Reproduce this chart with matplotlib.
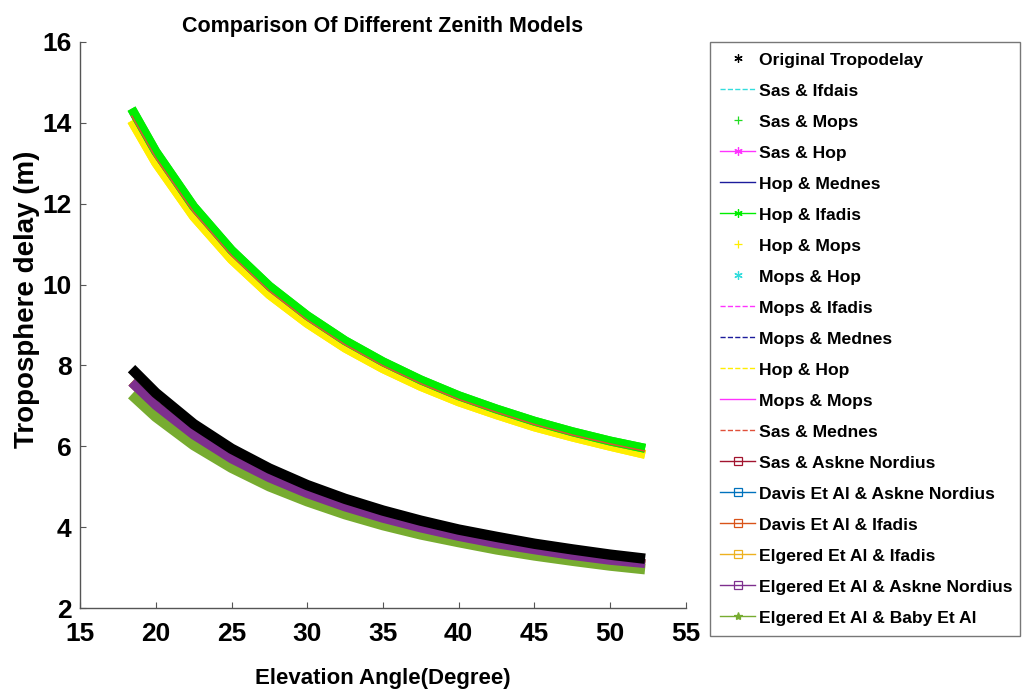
import matplotlib
matplotlib.use("Agg")
import matplotlib.pyplot as plt
from matplotlib.lines import Line2D

# ------------------------------------------------------------
# Data (elevation in degrees, delay in m)
# ------------------------------------------------------------
elev = [18.4, 20, 22.5, 25, 27.5, 30, 32.5, 35, 37.5, 40, 42.5, 45, 47.5, 50, 52.3]

upper_high = [14.35, 13.29, 11.93, 10.85, 9.96, 9.23, 8.61, 8.09, 7.64, 7.25,
              6.92, 6.62, 6.36, 6.13, 5.95]
upper_mid = [14.18, 13.13, 11.79, 10.72, 9.84, 9.12, 8.51, 7.99, 7.55, 7.16,
             6.84, 6.54, 6.28, 6.06, 5.88]
upper_low = [14.05, 13.01, 11.68, 10.62, 9.75, 9.04, 8.43, 7.92, 7.48, 7.10,
             6.78, 6.48, 6.23, 6.00, 5.80]

original = [7.92, 7.32, 6.55, 5.94, 5.45, 5.04, 4.70, 4.41, 4.16, 3.94,
            3.76, 3.59, 3.45, 3.32, 3.22]
askne = [7.58, 7.01, 6.28, 5.69, 5.22, 4.83, 4.50, 4.22, 3.98, 3.77,
         3.59, 3.44, 3.30, 3.18, 3.10]
baby = [7.28, 6.73, 6.03, 5.47, 5.01, 4.64, 4.32, 4.05, 3.82, 3.63,
        3.45, 3.30, 3.17, 3.05, 2.96]

labels = [
    "Original Tropodelay", "Sas & Ifdais", "Sas & Mops", "Sas & Hop",
    "Hop & Mednes", "Hop & Ifadis", "Hop & Mops", "Mops & Hop",
    "Mops & Ifadis", "Mops & Mednes", "Hop & Hop", "Mops & Mops",
    "Sas & Mednes", "Sas & Askne Nordius", "Davis Et Al & Askne Nordius",
    "Davis Et Al & Ifadis", "Elgered Et Al & Ifadis",
    "Elgered Et Al & Askne Nordius", "Elgered Et Al & Baby Et Al",
]
values = [
    original, upper_mid, upper_high, upper_mid,
    upper_mid, upper_high, upper_low, upper_mid,
    upper_mid, upper_mid, upper_low, upper_mid,
    upper_mid, askne, askne,
    askne, askne,
    askne, baby,
]

AST = (6, 2, 0)  # MATLAB-style asterisk

# style per series: colour, legend linestyle, marker, band width, zorder
styles = [
    ("black", "none", AST, 7.5, 6),
    ("#33dddd", "--", None, 1.0, 1),
    ("#22dd22", "none", "+", 6.5, 3),
    ("#ff33ff", "-", AST, 1.0, 1),
    ("#1c1c9c", "-", None, 1.0, 1),
    ("#00ee00", "-", AST, 6.5, 3),
    ("#ffee00", "none", "+", 6.5, 2),
    ("#33dddd", "none", AST, 1.0, 1),
    ("#ff33ff", "--", None, 1.0, 1),
    ("#1c1c9c", "--", None, 1.0, 1),
    ("#ffee00", "--", None, 6.5, 2),
    ("#ff33ff", "-", None, 1.0, 1),
    ("#e0503a", "--", None, 1.1, 4),
    ("#a2142f", "-", "s", 6.0, 1),
    ("#0072bd", "-", "s", 6.0, 1),
    ("#d95319", "-", "s", 6.0, 1),
    ("#edb120", "-", "s", 6.0, 1),
    ("#7e2f8e", "-", "s", 6.5, 5),
    ("#77ac30", "-", "*", 7.5, 4),
]

plt.rcParams["font.family"] = ["Liberation Sans", "DejaVu Sans"]
plt.rcParams["font.weight"] = "bold"

fig = plt.figure(figsize=(10.30, 6.96), dpi=100)
ax = fig.add_axes([0.0777, 0.1264, 0.5883, 0.8133])

handles = []
for lab, v, (col, ls, mk, lw, z) in zip(labels, values, styles):
    ax.plot(elev, v, color=col, lw=lw, solid_capstyle="butt", zorder=z)
    handles.append(Line2D([], [], color=col, linestyle=ls, lw=1.0,
                          marker=mk if mk is not None else "None",
                          markersize=6,
                          markerfacecolor="none" if mk == "s" else col,
                          markeredgewidth=0.9, label=lab))

ax.set_xlim(15, 55)
ax.set_ylim(2, 16)
ax.set_xticks(range(15, 56, 5))
ax.set_yticks(range(2, 17, 2))
for s in ("top", "right"):
    ax.spines[s].set_visible(False)
for s in ("left", "bottom"):
    ax.spines[s].set_color("#555555")
    ax.spines[s].set_linewidth(1.0)
ax.tick_params(direction="in", length=4, width=0.8, color="#555555",
               labelsize=19, pad=6)
ax.tick_params(axis="x", pad=10)
for t in ax.get_xticklabels() + ax.get_yticklabels():
    t.set_fontweight("bold")

ax.set_title("Comparison Of Different Zenith Models", fontsize=15.5,
             fontweight="bold", pad=7)
ax.set_xlabel("Elevation Angle(Degree)", fontsize=16, fontweight="bold",
              labelpad=16)
ax.set_ylabel("Troposphere delay (m)", fontsize=20, fontweight="bold")
ax.yaxis.set_label_coords(-0.066, 0.545)

leg = fig.legend(handles=handles, loc="upper left",
                 bbox_to_anchor=(0.689, 0.0, 0.301, 0.94), mode="expand",
                 borderaxespad=0, frameon=True, fancybox=False,
                 prop={"size": 12.6, "weight": "bold"},
                 handlelength=2.0, handletextpad=0.2, labelspacing=0.90,
                 borderpad=0.6)
leg.get_frame().set_edgecolor("#555555")
leg.get_frame().set_linewidth(1.0)

fig.savefig("out.png", dpi=100)
